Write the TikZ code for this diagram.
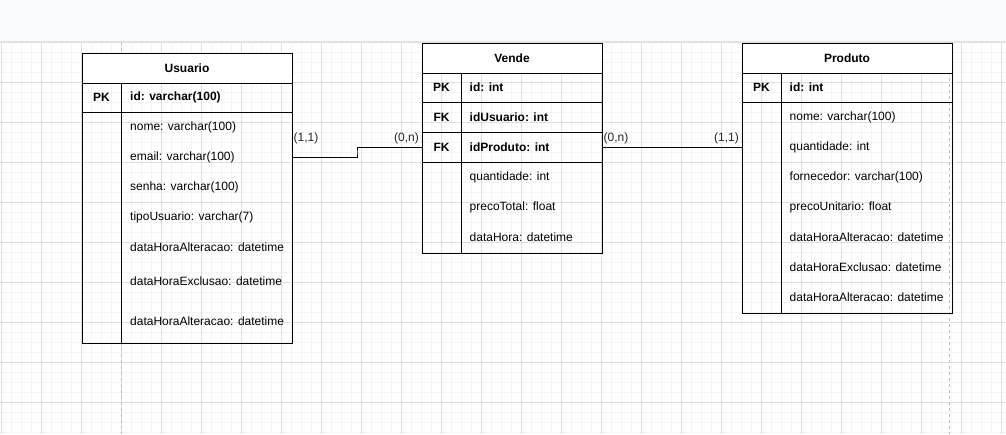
\documentclass[tikz,border=0pt]{standalone}
\usepackage{fontspec}
\setmainfont{Liberation Sans}
\usetikzlibrary{positioning, calc}
\definecolor{barbg}{RGB}{248,249,250}
\definecolor{barln}{RGB}{228,230,232}
\definecolor{gmincol}{RGB}{244,244,244}
\definecolor{gmajcol}{RGB}{222,222,222}
\definecolor{brkcol}{RGB}{190,190,190}
\tikzset{
  gmin/.style  ={draw=gmincol, line width=0.8pt},
  gmaj/.style  ={draw=gmajcol, line width=0.8pt},
  pgbrk/.style ={draw=brkcol, line width=0.8pt, dash pattern=on 3pt off 3pt},
  tbl/.style   ={rectangle, draw=black, line width=1pt, inner sep=0pt, anchor=north west},
  ttl/.style   ={tbl, fill=white, minimum height=30pt,
                 font=\fontsize{12}{14}\selectfont\bfseries},
  rule/.style  ={draw=black, line width=1pt},
  keytx/.style ={font=\fontsize{12}{14}\selectfont\bfseries, inner sep=0pt},
  fld/.style   ={anchor=west, font=\fontsize{12}{14}\selectfont, inner sep=0pt},
  crd/.style   ={font=\fontsize{12}{14}\selectfont, inner sep=0pt, text=black!85},
  rel/.style   ={draw=black, line width=1pt},
}
\begin{document}
\begin{tikzpicture}[x=1pt,y=-1pt]
\useasboundingbox (0,0) rectangle (1006,434);
% canvas grid
\foreach \gx in {1,11,...,1001} \draw[gmin] (\gx,42) -- (\gx,434);
\foreach \gy in {42,52,...,432} \draw[gmin] (0,\gy) -- (1006,\gy);
\foreach \gx in {1,41,...,1001} \draw[gmaj] (\gx,42) -- (\gx,434);
\foreach \gy in {42,82,...,402} \draw[gmaj] (0,\gy) -- (1006,\gy);
\draw[pgbrk] (121,42) -- (121,434);
\draw[pgbrk] (949,42) -- (949,434);
% toolbar
\fill[barbg] (0,0) rectangle (1006,41);
\draw[barln] (0,41.5) -- (1006,41.5);

% Usuario
\node[tbl, minimum width=210pt, minimum height=290pt] (usr) at (81.5,52.5) {};
\node[ttl, minimum width=210pt] (usrT) at (81.5,52.5) {Usuario};
\draw[rule] (81.5,112.5) -- (291.5,112.5);
\draw[rule] (121.5,82.5) -- (121.5,342.5);
\node[keytx] (usrPK) at (101.5,97.5) {PK};
\node[fld, font=\fontsize{12}{14}\selectfont\bfseries] (usrId) at (130,97.5) {id: varchar(100)};
\node[fld] (usrNome) at (130,127.5) {nome: varchar(100)};
\node[fld] (usrEmail) at (130,157.5) {email: varchar(100)};
\node[fld] (usrSenha) at (130,187.5) {senha: varchar(100)};
\node[fld] (usrTipo) at (130,217) {tipoUsuario: varchar(7)};
\node[fld] (usrAlt) at (130,247) {dataHoraAlteracao: datetime};
\node[fld] (usrExc) at (130,281.5) {dataHoraExclusao: datetime};
\node[fld] (usrAlt2) at (130,321.5) {dataHoraAlteracao: datetime};

% Vende
\node[tbl, minimum width=180pt, minimum height=210pt] (vnd) at (421.5,42.5) {};
\node[ttl, minimum width=180pt] (vndT) at (421.5,42.5) {Vende};
\draw[rule] (421.5,102.5) -- (601.5,102.5);
\draw[rule] (421.5,132.5) -- (601.5,132.5);
\draw[rule] (421.5,162.5) -- (601.5,162.5);
\draw[rule] (461.5,72.5) -- (461.5,252.5);
\node[keytx] (vndPK) at (441.5,87.5) {PK};
\node[keytx] (vndFK1) at (441.5,117.5) {FK};
\node[keytx] (vndFK2) at (441.5,147.5) {FK};
\node[fld, font=\fontsize{12}{14}\selectfont\bfseries] (vndId) at (469.5,87.5) {id: int};
\node[fld, font=\fontsize{12}{14}\selectfont\bfseries] (vndIdU) at (469.5,117.5) {idUsuario: int};
\node[fld, font=\fontsize{12}{14}\selectfont\bfseries] (vndIdP) at (469.5,147.5) {idProduto: int};
\node[fld] (vndQtd) at (469.5,177) {quantidade: int};
\node[fld] (vndPreco) at (469.5,207) {precoTotal: float};
\node[fld] (vndData) at (469.5,237) {dataHora: datetime};

% Produto
\node[tbl, minimum width=210pt, minimum height=270pt] (prd) at (741.5,42.5) {};
\node[ttl, minimum width=210pt] (prdT) at (741.5,42.5) {Produto};
\draw[rule] (741.5,102.5) -- (951.5,102.5);
\draw[rule] (781.5,72.5) -- (781.5,312.5);
\node[keytx] (prdPK) at (761.5,87.5) {PK};
\node[fld, font=\fontsize{12}{14}\selectfont\bfseries] (prdId) at (789.5,87.5) {id: int};
\node[fld] (prdNome) at (789.5,117.5) {nome: varchar(100)};
\node[fld] (prdQtd) at (789.5,147.5) {quantidade: int};
\node[fld] (prdForn) at (789.5,177.5) {fornecedor: varchar(100)};
\node[fld] (prdPreco) at (789.5,207) {precoUnitario: float};
\node[fld] (prdAlt) at (789.5,237) {dataHoraAlteracao: datetime};
\node[fld] (prdExc) at (789.5,267) {dataHoraExclusao: datetime};
\node[fld] (prdAlt2) at (789.5,297) {dataHoraAlteracao: datetime};

% relacionamentos
\coordinate (elb) at (357,152);
\draw[rel] (usr.east |- usrEmail) -| (elb) |- (vnd.west |- vndIdP);
\draw[rel] (vnd.east |- vndIdP) -- (prd.west |- vndIdP);
\node[crd, anchor=west] (cUsr) at (293.5,138) {(1,1)};
\node[crd, anchor=east] (cVndL) at (419,138) {(0,n)};
\node[crd, anchor=west] (cVndR) at (603.5,138) {(0,n)};
\node[crd, anchor=east] (cPrd) at (739,138) {(1,1)};
\end{tikzpicture}
\end{document}
